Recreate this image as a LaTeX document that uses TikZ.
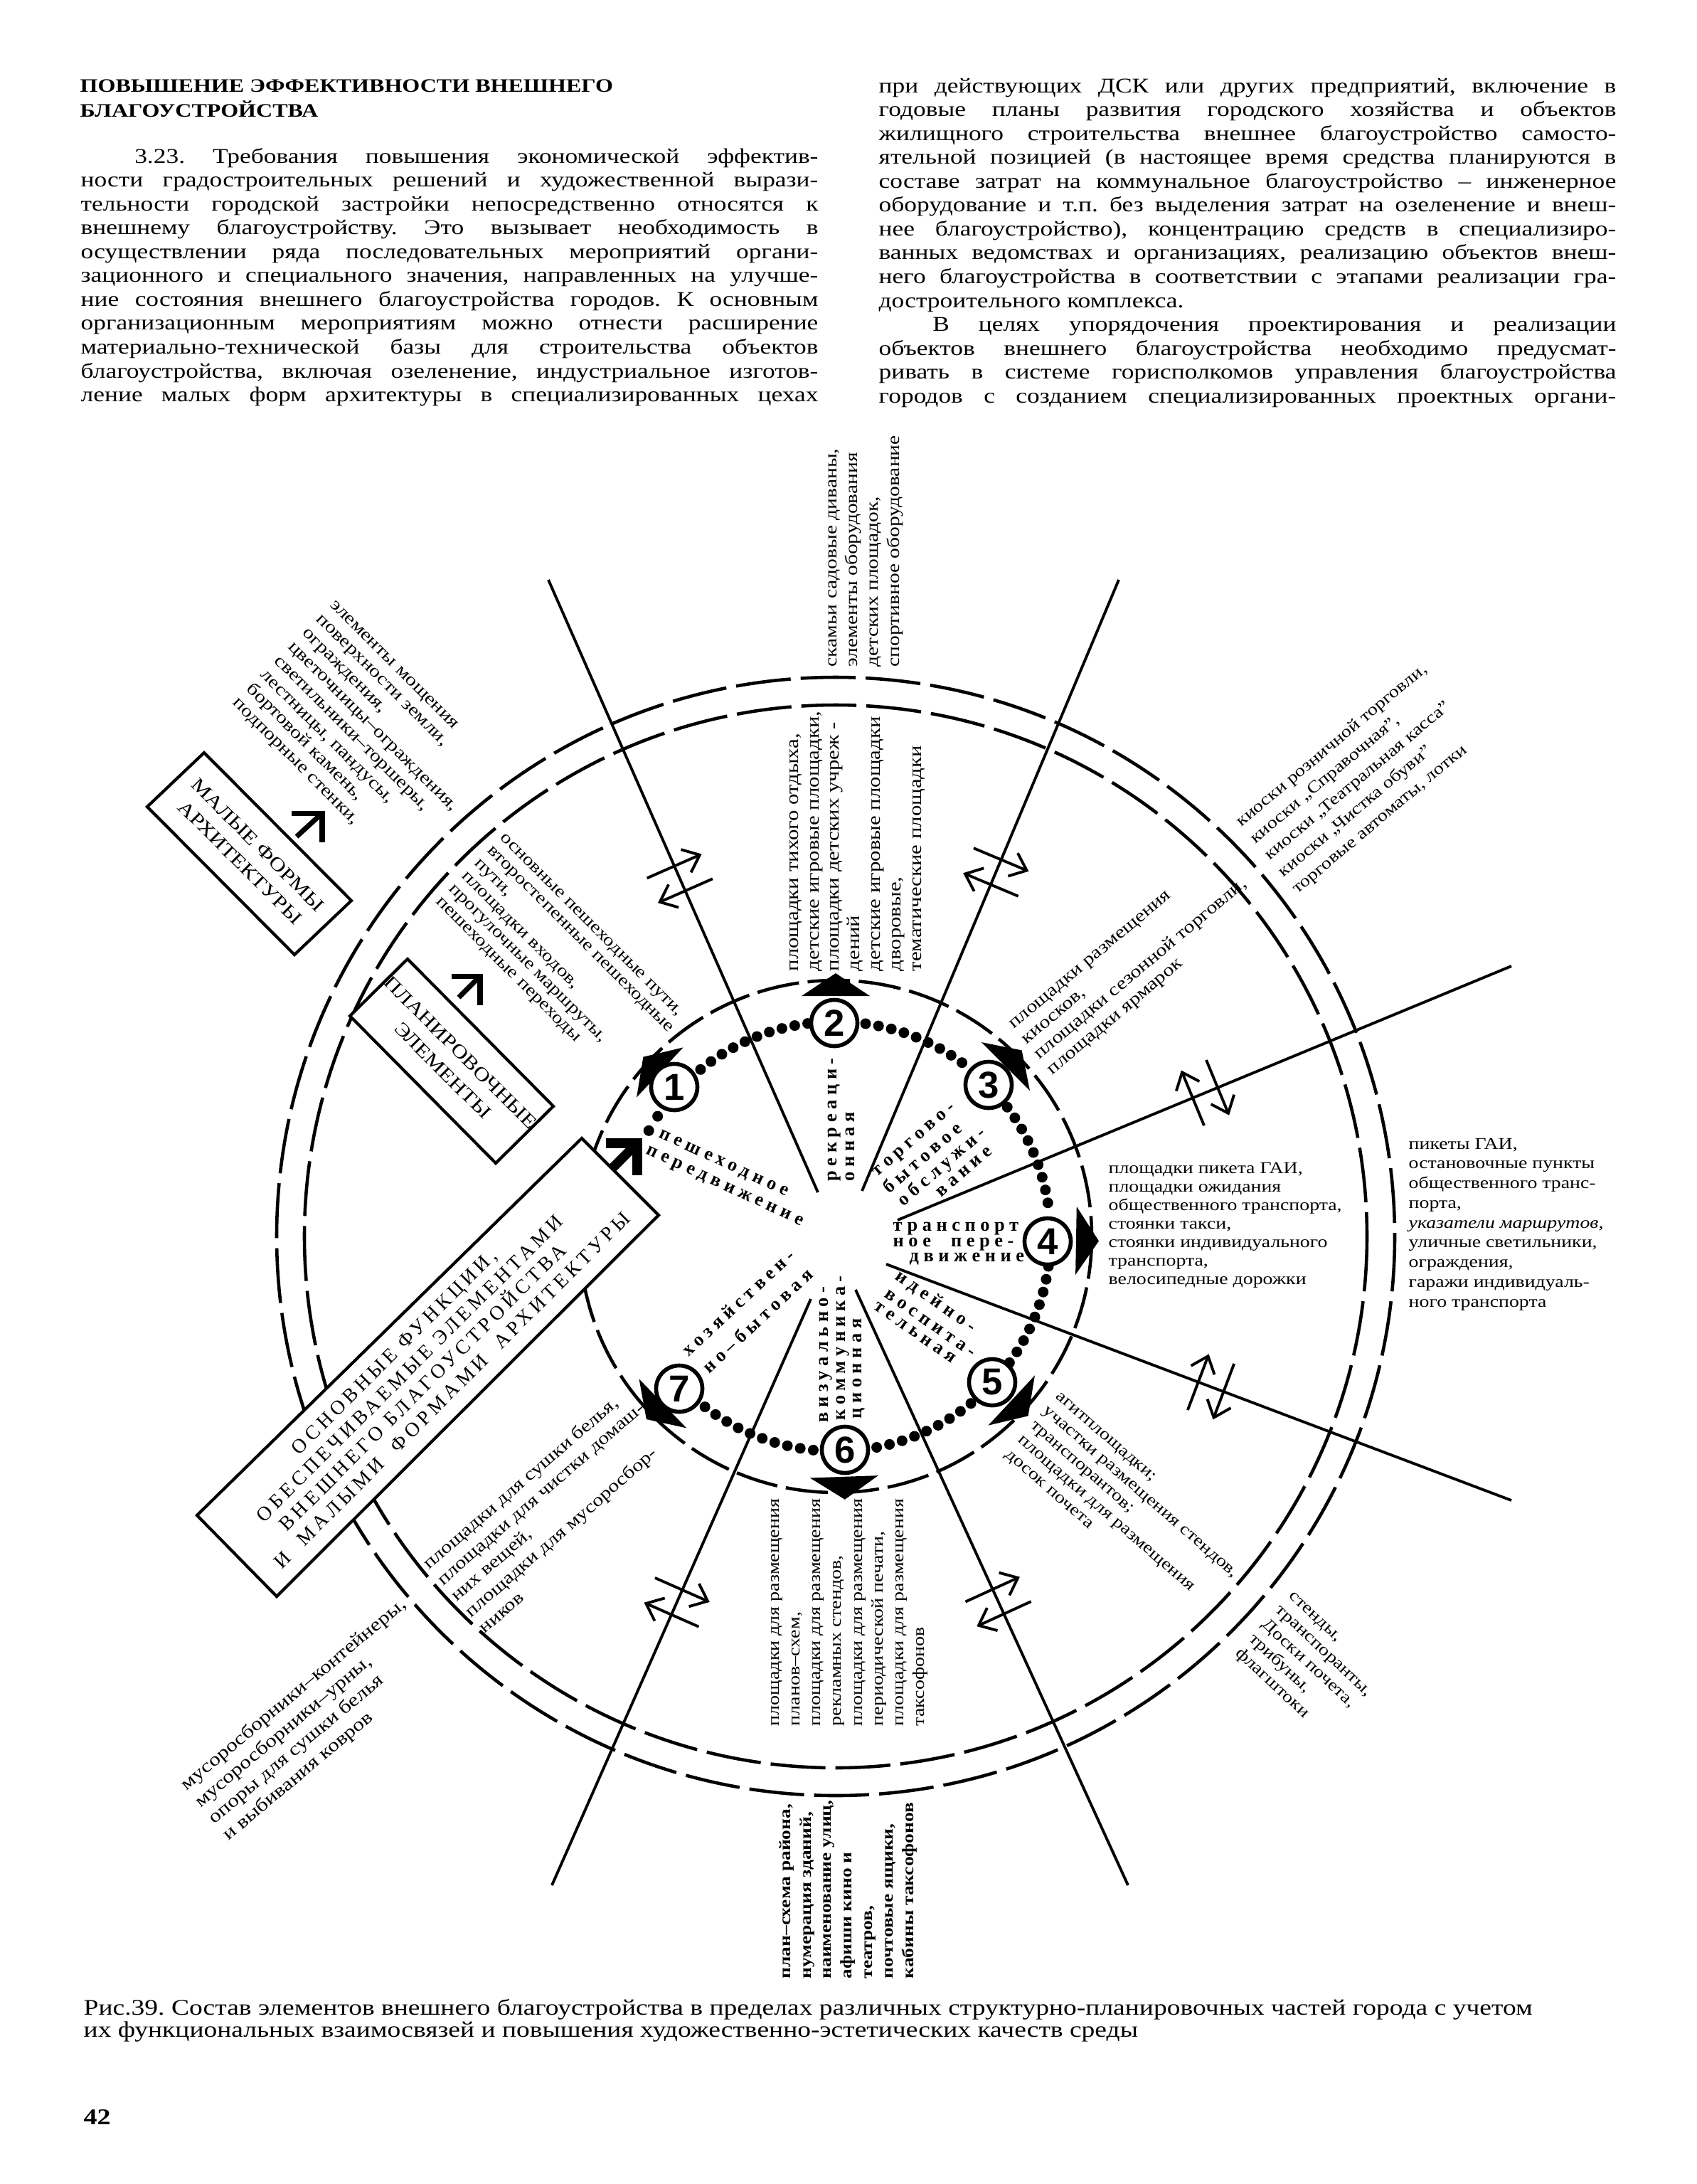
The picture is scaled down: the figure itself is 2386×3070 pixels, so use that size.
\documentclass[tikz,border=0pt]{standalone}
\usepackage{fontspec}
\setmainfont{Liberation Serif}[FakeStretch=1.2]
\newfontfamily\plainserif{Liberation Serif}
\newfontfamily\numfont{Liberation Sans}
\usetikzlibrary{arrows.meta}
\frenchspacing
\newcommand\LL[1]{\vtop{\lineskiplimit=-\maxdimen\tabskip=0pt\halign{##\hfil\cr#1\crcr}}}
\newcommand\CL[1]{\vtop{\lineskiplimit=-\maxdimen\tabskip=0pt\halign{\hfil##\hfil\cr#1\crcr}}}
\newcommand\fs[2]{\fontsize{#1}{#2}\selectfont}
\newcommand\jl[1]{\hbox to 295pt{#1}}
\newcommand\dblarr[5]{%
 \pgfmathsetmacro\ddx{#3-#1}\pgfmathsetmacro\ddy{#4-#2}%
 \pgfmathsetmacro\dL{100*veclen(\ddx/100,\ddy/100)}%
 \pgfmathsetmacro\uux{\ddx/\dL}\pgfmathsetmacro\uuy{\ddy/\dL}%
 \pgfmathsetmacro\mmx{#1+#5*\uux}\pgfmathsetmacro\mmy{#2+#5*\uuy}%
 \draw[dbl] ({\mmx-19*\uux-42*\uuy},{\mmy-19*\uuy+42*\uux}) -- ({\mmx-19*\uux+42*\uuy},{\mmy-19*\uuy-42*\uux});
 \draw[dbl] ({\mmx+19*\uux+42*\uuy},{\mmy+19*\uuy-42*\uux}) -- ({\mmx+19*\uux-42*\uuy},{\mmy+19*\uuy+42*\uux});
}
\begin{document}
\begin{tikzpicture}[x=0.1mm,y=-0.1mm,
  every node/.style={inner sep=0pt},
  ringo/.style={line width=1.3pt, dash pattern=on 22pt off 4pt},
  ringi/.style={line width=1.3pt, dash pattern=on 17pt off 3.5pt},
  radial/.style={line width=1.1pt},
  dbl/.style={line width=1.1pt, -{Straight Barb[length=6pt,width=10pt]}},
  boxf/.style={draw, line width=1.2pt, fill=white},
  numc/.style={circle, draw, line width=1.6pt, fill=white, minimum size=18.5pt, font=\numfont\bfseries\fontsize{15}{15}\selectfont},
  lab/.style={anchor=base west},
  sec/.style={anchor=base west, font=\plainserif\bfseries\fontsize{7.5}{7.5}\selectfont\addfontfeatures{LetterSpace=25}},
  harr/.style={line width=2pt, miter limit=10}]
\useasboundingbox (0,0) rectangle (2386,3070);
\fill[white] (0,0) rectangle (2386,3070);

% ---------- page text ----------
\node[lab, font=\bfseries\fs{7.6}{10.2}] (head) at (112,129) {\LL{ПОВЫШЕНИЕ ЭФФЕКТИВНОСТИ ВНЕШНЕГО\cr БЛАГОУСТРОЙСТВА}};
\node[lab, font=\fs{8.4}{9.55}] (colL) at (113,229) {\vtop{\lineskiplimit=-\maxdimen
\jl{\kern21.5pt 3.23. Требования повышения экономической эффектив-}
\jl{ности градостроительных решений и художественной вырази-}
\jl{тельности  городской застройки непосредственно относятся к}
\jl{внешнему благоустройству. Это вызывает необходимость в}
\jl{осуществлении ряда последовательных мероприятий органи-}
\jl{зационного  и специального значения, направленных на улучше-}
\jl{ние состояния внешнего благоустройства городов. К основным}
\jl{организационным мероприятиям можно отнести расширение}
\jl{материально-технической базы для строительства объектов}
\jl{благоустройства, включая озеленение, индустриальное изготов-}
\jl{ление малых форм архитектуры в специализированных цехах}}};
\node[lab, font=\fs{8.4}{9.55}] (colR) at (1235,130) {\vtop{\lineskiplimit=-\maxdimen
\jl{при действующих ДСК или других предприятий, включение в}
\jl{годовые планы развития городского хозяйства и объектов}
\jl{жилищного строительства внешнее благоустройство самосто-}
\jl{ятельной позицией (в настоящее время средства планируются в}
\jl{составе затрат на коммунальное благоустройство – инженерное}
\jl{оборудование и т.п. без выделения затрат на озеленение и внеш-}
\jl{нее благоустройство), концентрацию средств в специализиро-}
\jl{ванных ведомствах и организациях, реализацию объектов внеш-}
\jl{него благоустройства в соответствии с этапами реализации гра-}
\hbox{достроительного комплекса.}
\jl{\kern21.5pt В целях упорядочения проектирования и реализации}
\jl{объектов внешнего благоустройства необходимо предусмат-}
\jl{ривать в системе горисполкомов управления благоустройства}
\jl{городов с созданием специализированных проектных органи-}}};

% ---------- rings ----------
\draw[ringo] (1175,1738) circle[radius=747];
\draw[ringo] (1175,1738) circle[radius=786];
\draw[ringi] (1175,1738) circle[radius=360];

% ---------- radial lines ----------
\coordinate (a12) at (1150,1676); \coordinate (b12) at (771,815);
\coordinate (a23) at (1212,1674); \coordinate (b23) at (1573,815);
\coordinate (a34) at (1262,1715); \coordinate (b34) at (2125,1358);
\coordinate (a45) at (1246,1777); \coordinate (b45) at (2125,2109);
\coordinate (a56) at (1203,1813); \coordinate (b56) at (1586,2650);
\coordinate (a67) at (1140,1826); \coordinate (b67) at (776,2650);
\draw[radial] (a12) -- (b12);
\draw[radial] (a23) -- (b23);
\draw[radial] (a34) -- (b34);
\draw[radial] (a45) -- (b45);
\draw[radial] (a56) -- (b56);
\draw[radial] (a67) -- (b67);

\dblarr{1150}{1676}{771}{815}{482}
\dblarr{1212}{1674}{1573}{815}{486}
\dblarr{1262}{1715}{2125}{1358}{468}
\dblarr{1246}{1777}{2125}{2109}{488}
\dblarr{1203}{1813}{1586}{2650}{482}
\dblarr{1140}{1826}{776}{2650}{466}

% ---------- dotted circle ----------
\foreach \a in {129,125.5,...,97,146,150.5}{\fill ({1175+302*cos(\a)},{1738-302*sin(\a)}) circle[radius=7.5];}
\foreach \a in {82,78.5,...,52}{\fill ({1175+302*cos(\a)},{1738-302*sin(\a)}) circle[radius=7.5];}
\foreach \a in {37,33.5,...,6}{\fill ({1175+302*cos(\a)},{1738-302*sin(\a)}) circle[radius=7.5];}
\foreach \a in {-8,-11.5,...,-36}{\fill ({1175+302*cos(\a)},{1738-302*sin(\a)}) circle[radius=7.5];}
\foreach \a in {-51,-54.5,...,-81}{\fill ({1175+302*cos(\a)},{1738-302*sin(\a)}) circle[radius=7.5];}
\foreach \a in {-96,-99.5,...,-129}{\fill ({1175+302*cos(\a)},{1738-302*sin(\a)}) circle[radius=7.5];}

% ---------- outward triangles ----------
\foreach \t in {137,90,45,-1,-43,-88,-136}{
 \fill ({1175+338*cos(\t)+48*sin(\t)},{1738-338*sin(\t)+48*cos(\t)}) -- ({1175+370*cos(\t)},{1738-370*sin(\t)}) -- ({1175+338*cos(\t)-48*sin(\t)},{1738-338*sin(\t)-48*cos(\t)}) -- cycle;}

% ---------- boxes ----------
\draw[boxf] (287,1058) -- (494,1266) -- (414,1342) -- (207,1134) -- cycle;
\draw[boxf] (573,1348) -- (778,1555) -- (697,1635) -- (492,1428) -- cycle;
\draw[boxf] (818,1600) -- (926,1708) -- (389,2244) -- (277,2130) -- cycle;
\node[rotate=-45, font=\fs{7.6}{10}] (box1) at (350,1200) {\CL{МАЛЫЕ ФОРМЫ\cr АРХИТЕКТУРЫ}};
\node[rotate=-45, font=\fs{7.6}{10}] (box2) at (635,1492) {\CL{ПЛАНИРОВОЧНЫЕ\cr ЭЛЕМЕНТЫ}};
\node[rotate=45, font=\plainserif\fs{8}{9.1}\addfontfeatures{LetterSpace=19}] (box3) at (602,1920) {\LL{\hspace*{37pt}ОСНОВНЫЕ ФУНКЦИИ,\cr \hspace*{8pt}ОБЕСПЕЧИВАЕМЫЕ ЭЛЕМЕНТАМИ\cr \hspace*{12pt}ВНЕШНЕГО БЛАГОУСТРОЙСТВА\cr И\ \ МАЛЫМИ\ \ ФОРМАМИ\ \ АРХИТЕКТУРЫ}};

% ---------- bold arrows ----------
\draw[harr] (417,1176) -- (453,1143);
\draw[harr] (410,1143) -- (453,1143) -- (453,1184);
\draw[harr] (645,1402) -- (675,1372);
\draw[harr] (635,1372) -- (675,1372) -- (675,1413);
\draw[line width=3.8pt, miter limit=10] (860,1643) -- (896,1607);
\draw[line width=3.8pt, miter limit=10] (852,1607) -- (896,1607) -- (896,1652);

% ---------- number circles ----------
\node[numc] (n1) at (948,1528) {1};
\node[numc] (n2) at (1173,1438) {2};
\node[numc] (n3) at (1390,1525) {3};
\node[numc] (n4) at (1473,1745) {4};
\node[numc] (n5) at (1395,1943) {5};
\node[numc] (n6) at (1188,2038) {6};
\node[numc] (n7) at (955,1952) {7};

% ---------- sector labels ----------
\node[sec, rotate=-25] (s1a) at (925,1598) {пешеходное};
\node[sec, rotate=-25] (s1b) at (907,1621) {передвижение};
\node[sec, rotate=90] (s2a) at (1176,1661) {рекреаци-};
\node[sec, rotate=90] (s2b) at (1201,1661) {онная};
\node[sec, rotate=41] (s3a) at (1233,1655) {торгово-};
\node[sec, rotate=41] (s3b) at (1250,1679) {бытовое};
\node[sec, rotate=41] (s3c) at (1270,1697) {обслужи-};
\node[sec, rotate=41] (s3d) at (1323,1684) {вание};
\node[sec] (s4a) at (1255,1730) {транспорт};
\node[sec] (s4b) at (1255,1752) {ное\hspace{8pt}пере-};
\node[sec] (s4c) at (1278,1773) {движение};
\node[sec, rotate=-35] (s5a) at (1257,1797) {идейно-};
\node[sec, rotate=-35] (s5b) at (1242,1822) {воспита-};
\node[sec, rotate=-35] (s5c) at (1227,1839) {тельная};
\node[sec, rotate=90] (s6a) at (1164,2000) {визуально-};
\node[sec, rotate=90] (s6b) at (1188,1997) {коммуника-};
\node[sec, rotate=90] (s6c) at (1211,1995) {ционная};
\node[sec, rotate=43] (s7a) at (968,1908) {хозяйствен-};
\node[sec, rotate=43] (s7b) at (997,1932) {но–бытовая};

% ---------- element labels ----------
\node[lab, rotate=-45, font=\fs{7.1}{7.9}] (t1) at (463,851) {\LL{элементы мощения\cr поверхности земли,\cr ограждения,\cr цветочницы–ограждения,\cr светильники–торшеры,\cr лестницы, пандусы,\cr бортовой камень,\cr подпорные стенки,}};
\node[lab, rotate=-45, font=\fs{6.9}{7.25}] (t2) at (702,1178) {\LL{основные пешеходные пути,\cr второстепенные пешеходные\cr пути,\cr площадки входов,\cr прогулочные маршруты,\cr пешеходные переходы}};
\node[lab, rotate=90, font=\fs{7.3}{8.25}] (t3) at (1122,1366) {\LL{площадки тихого отдыха,\cr детские игровые площадки,\cr площадки детских учреж -\cr дений\cr детские игровые площадки\cr дворовые,\cr тематические площадки}};
\node[lab, rotate=90, font=\fs{7.0}{8.35}] (t4) at (1176,938) {\LL{скамьи  садовые диваны,\cr элементы оборудования\cr детских площадок,\cr спортивное оборудование}};
\node[lab, rotate=40, font=\fs{6.7}{8.76}] (t5) at (1745,1163) {\LL{киоски розничной торговли,\cr киоски „Справочная”,\cr киоски „Театральная касса”\cr киоски „Чистка обуви”\cr торговые автоматы, лотки}};
\node[lab, rotate=40, font=\fs{7.1}{8}] (t6) at (1425,1447) {\LL{площадки размещения\cr киосков,\cr площадки сезонной торговли,\cr площадки ярмарок}};
\node[lab, font=\fs{6.6}{7.4}] (t7) at (1558,1649) {\LL{площадки пикета ГАИ,\cr площадки ожидания\cr общественного транспорта,\cr стоянки такси,\cr стоянки индивидуального\cr транспорта,\cr велосипедные дорожки}};
\node[lab, font=\fs{6.6}{7.9}] (t8) at (1980,1615) {\LL{пикеты ГАИ,\cr остановочные пункты\cr общественного транс-\cr порта,\cr {\itshape указатели маршрутов,}\cr уличные светильники,\cr ограждения,\cr гаражи индивидуаль-\cr ного транспорта}};
\node[lab, rotate=-41, font=\fs{6.7}{7.7}] (t9) at (1483,1964) {\LL{агитплощадки;\cr участки размещения стендов,\cr транспорантов;\cr площадки для размещения\cr досок почета}};
\node[lab, rotate=-43, font=\fs{6.7}{7.85}] (t10) at (1811,2244) {\LL{стенды,\cr транспоранты,\cr Доски почета,\cr трибуны,\cr флагштоки}};
\node[lab, rotate=90, font=\fs{6.65}{8.33}] (t11) at (1095,2427) {\LL{площадки для  размещения\cr планов–схем,\cr площадки для размещения\cr рекламных стендов,\cr площадки для размещения\cr периодической печати,\cr площадки для размещения\cr таксофонов}};
\node[lab, rotate=90, font=\bfseries\fs{6.5}{8.25}] (t12) at (1111,2782) {\LL{план–схема района,\cr нумерация зданий,\cr наименование улиц,\cr афиши кино и\cr театров,\cr почтовые ящики,\cr кабины таксофонов}};
\node[lab, rotate=41, font=\fs{7.1}{8.5}] (t13) at (603,2207) {\LL{площадки для сушки белья,\cr площадки для чистки домаш-\cr них вещей,\cr площадки для   мусоросбор-\cr ников}};
\node[lab, rotate=40, font=\fs{7.4}{8.7}] (t14) at (262,2518) {\LL{мусоросборники–контейнеры,\cr мусоросборники–урны,\cr опоры  для  сушки  белья\cr и  выбивания  ковров}};

% ---------- caption ----------
\node[lab, font=\fs{8.9}{10}] (cap1) at (117,2832) {Рис.39. Состав элементов внешнего благоустройства в пределах различных структурно-планировочных частей города с учетом};
\node[lab, font=\fs{8.9}{10}] (cap2) at (117,2863) {их функциональных взаимосвязей и повышения  художественно-эстетических качеств среды};
\node[lab, font=\bfseries\fs{9}{10}] (pnum) at (117,2986) {42};
\end{tikzpicture}
\end{document}
